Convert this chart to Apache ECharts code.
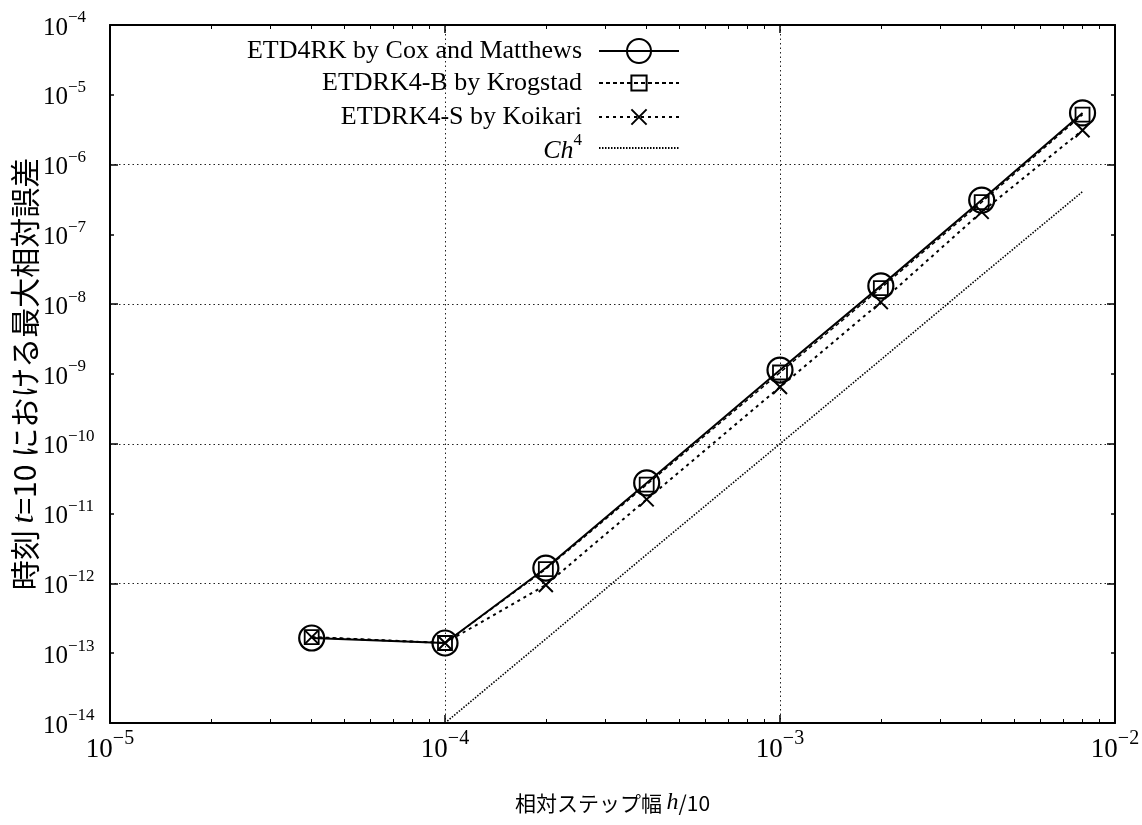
<!DOCTYPE html>
<html>
<head>
<meta charset="utf-8">
<script src="https://cdn.jsdelivr.net/npm/echarts@6/dist/echarts.min.js"></script>
<style>
  html, body { margin: 0; background: #fff; }
  #chart { width: 1142px; height: 825px; }
</style>
</head>
<body>
<div id="chart"></div>
<script>
// 読み取った値 (h/10, 最大相対誤差)
const stepSizes = [4e-5, 1e-4, 2e-4, 4e-4, 1e-3, 2e-3, 4e-3, 8e-3]
const coxMatthews = [1.65e-13, 1.4e-13, 1.66e-12, 2.75e-11, 1.14e-9, 1.83e-8, 3.1e-7, 5.5e-6]
const krogstad = [1.7e-13, 1.4e-13, 1.6e-12, 2.6e-11, 1.05e-9, 1.7e-8, 2.9e-7, 5.2e-6]
const koikari = [1.7e-13, 1.4e-13, 9.5e-13, 1.6e-11, 6.5e-10, 1.07e-8, 2.1e-7, 3.1e-6]
const ch4Steps = [1e-4, 2e-4, 4e-4, 1e-3, 2e-3, 4e-3, 8e-3]
const ch4Values = [1e-14, 1.6e-13, 2.6e-12, 1e-10, 1.6e-9, 2.6e-8, 4.1e-7]

const seriesNames = ['ETD4RK by Cox and Matthews', 'ETDRK4-B by Krogstad', 'ETDRK4-S by Koikari', 'Ch4']
const xDecades = [-5, -4, -3]
const yTickValues = [1e-14, 1e-13, 1e-12, 1e-11, 1e-10, 1e-9, 1e-8, 1e-7, 1e-6, 1e-5, 1e-4]

const serif = 'Liberation Serif'
const cjk = 'Noto Sans CJK JP'

// 補助目盛 (2..9 × 10^n)
function minorTicks (decades) {
  const arr = []
  decades.forEach((d) => {
    for (let k = 2; k <= 9; k++) arr.push(k * Math.pow(10, d))
  })
  return arr
}

function pairs (xs, ys) {
  return xs.map((x, i) => [x, ys[i]])
}

function powLabel (value) {
  const e = Math.round(Math.log10(value))
  return '{b|10}{s|' + (e < 0 ? '\u2212' + (-e) : e) + '}'
}

const axisLine = { show: true, onZero: false, lineStyle: { color: '#000', width: 2 } }
const gridLine = { show: true, lineStyle: { color: '#222', width: 1, type: [1.5, 3] } }

function xAxis (extra) {
  return Object.assign({
    type: 'log',
    logBase: 10,
    min: 1e-5,
    max: 1e-2,
    axisLine: axisLine,
    axisTick: { show: true, inside: true, length: 8, lineStyle: { color: '#000', width: 1.5 } },
    axisLabel: { show: false },
    splitLine: { show: false }
  }, extra)
}

function yAxis (extra) {
  return Object.assign({
    type: 'log',
    logBase: 10,
    min: 1e-14,
    max: 1e-4,
    axisLine: axisLine,
    axisTick: { show: true, inside: true, length: 4, customValues: yTickValues, lineStyle: { color: '#000', width: 1.5 } },
    axisLabel: { show: false },
    splitLine: { show: false }
  }, extra)
}

const minorTick = { show: true, inside: true, length: 4, lineStyle: { color: '#000', width: 1 } }

const legendBase = {
  orient: 'horizontal',
  align: 'right',
  right: 462,
  padding: 0,
  itemWidth: 80,
  selectedMode: false,
  textStyle: {
    fontFamily: serif,
    fontSize: 26,
    lineHeight: 26,
    color: '#000',
    padding: [0, 12, 0, 0]
  }
}

const option = {
  animation: false,
  backgroundColor: '#fff',
  grid: { left: 110, right: 27, top: 25, bottom: 102, containLabel: false, outerBoundsMode: 'none' },
  legend: [
    Object.assign({}, legendBase, { data: [seriesNames[0]], top: 38, itemHeight: 30 }),
    Object.assign({}, legendBase, { data: [seriesNames[1]], top: 70, itemHeight: 19 }),
    Object.assign({}, legendBase, { data: [seriesNames[2]], top: 104, itemHeight: 19 }),
    Object.assign({}, legendBase, {
      data: [seriesNames[3]],
      top: 132,
      itemHeight: 14,
      formatter: () => '{i|Ch}{s|4}',
      textStyle: Object.assign({}, legendBase.textStyle, {
        rich: {
          i: { fontFamily: serif, fontSize: 26, fontStyle: 'italic', color: '#000', verticalAlign: 'bottom', lineHeight: 32 },
          s: { fontFamily: serif, fontSize: 17, color: '#000', verticalAlign: 'top', lineHeight: 17 }
        }
      })
    })
  ],
  xAxis: [
    xAxis({
      position: 'bottom',
      axisLabel: {
        show: true,
        margin: 6,
        formatter: powLabel,
        rich: {
          b: { fontFamily: serif, fontSize: 27, color: '#000', verticalAlign: 'bottom', lineHeight: 34 },
          s: { fontFamily: serif, fontSize: 20, color: '#000', verticalAlign: 'top', lineHeight: 20 }
        }
      },
      splitLine: gridLine,
      name: '相対ステップ幅 {i|h}/10',
      nameLocation: 'middle',
      nameGap: 68,
      nameMoveOverlap: false,
      nameTextStyle: {
        fontFamily: cjk,
        fontSize: 21,
        color: '#000',
        rich: { i: { fontFamily: serif, fontStyle: 'italic', fontSize: 24, color: '#000' } }
      }
    }),
    xAxis({ position: 'top' }),
    xAxis({ position: 'bottom', axisLine: { show: false }, axisTick: Object.assign({ customValues: minorTicks(xDecades) }, minorTick) }),
    xAxis({ position: 'top', axisLine: { show: false }, axisTick: Object.assign({ customValues: minorTicks(xDecades) }, minorTick) })
  ],
  yAxis: [
    yAxis({
      position: 'left',
      axisLabel: {
        show: true,
        align: 'left',
        margin: 67,
        customValues: yTickValues,
        formatter: powLabel,
        rich: {
          b: { fontFamily: serif, fontSize: 25, color: '#000', verticalAlign: 'bottom', lineHeight: 31 },
          s: { fontFamily: serif, fontSize: 17, color: '#000', verticalAlign: 'top', lineHeight: 17 }
        }
      },
      name: '時刻 {i|t}=10 における最大相対誤差',
      nameLocation: 'middle',
      nameRotate: 90,
      nameGap: 69,
      nameMoveOverlap: false,
      nameTextStyle: {
        fontFamily: cjk,
        fontSize: 30,
        color: '#000',
        rich: { i: { fontFamily: serif, fontStyle: 'italic', fontSize: 32, color: '#000' } }
      }
    }),
    yAxis({ position: 'right' }),
    // 10^2 刻みの格子線
    yAxis({
      position: 'left',
      logBase: 100,
      splitNumber: 5,
      axisLine: { show: false },
      axisTick: { show: true, inside: true, length: 8, lineStyle: { color: '#000', width: 1.5 } },
      splitLine: gridLine
    }),
    yAxis({
      position: 'right',
      logBase: 100,
      splitNumber: 5,
      axisLine: { show: false },
      axisTick: { show: true, inside: true, length: 8, lineStyle: { color: '#000', width: 1.5 } }
    })
  ],
  series: [
    {
      name: seriesNames[3],
      type: 'line',
      data: pairs(ch4Steps, ch4Values),
      symbol: 'circle',
      showSymbol: false,
      itemStyle: { color: 'rgba(0,0,0,0)' },
      lineStyle: { color: '#000', width: 1.6, type: [1.5, 1.5] },
      z: 2
    },
    {
      name: seriesNames[2],
      type: 'line',
      data: pairs(stepSizes, koikari),
      symbol: 'path://M0,0L10,10M10,0L0,10',
      symbolSize: 14,
      itemStyle: { color: 'rgba(0,0,0,0)', borderColor: '#000', borderWidth: 2 },
      lineStyle: { color: '#000', width: 2, type: [3, 4] },
      z: 3
    },
    {
      name: seriesNames[1],
      type: 'line',
      data: pairs(stepSizes, krogstad),
      symbol: 'rect',
      symbolSize: 14,
      itemStyle: { color: 'rgba(0,0,0,0)', borderColor: '#000', borderWidth: 1.8 },
      lineStyle: { color: '#000', width: 1.5, type: [4, 3] },
      z: 4
    },
    {
      name: seriesNames[0],
      type: 'line',
      data: pairs(stepSizes, coxMatthews),
      symbol: 'circle',
      symbolSize: 25,
      itemStyle: { color: 'rgba(0,0,0,0)', borderColor: '#000', borderWidth: 2.2 },
      lineStyle: { color: '#000', width: 2 },
      z: 5
    }
  ]
}

const myChart = echarts.init(document.getElementById('chart'), null, { renderer: 'canvas' })
myChart.setOption(option)
</script>
</body>
</html>
